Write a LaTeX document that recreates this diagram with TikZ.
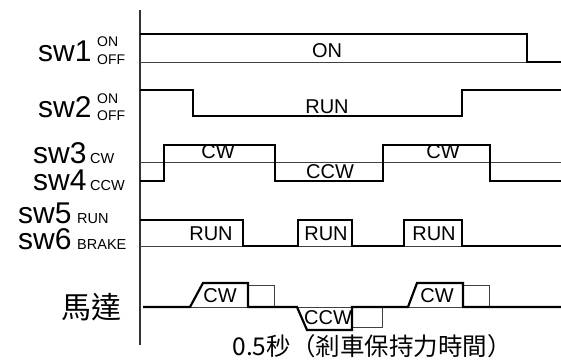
\documentclass[tikz,border=0pt]{standalone}
\usepackage{fontspec}
\setmainfont{Liberation Sans}
\newfontfamily\cjk{Noto Sans CJK TC}
\begin{document}
\begin{tikzpicture}[x=1pt,y=-1pt,
  sig/.style={line width=2.2pt,line join=miter,black},
  basel/.style={line width=1pt,black!75},
  big/.style={inner sep=0,anchor=base west,text height=0.72em,text depth=0pt,font=\fontsize{30}{30}\selectfont},
  small/.style={inner sep=0,anchor=base west,text height=0.72em,text depth=0pt,font=\fontsize{14.5}{14.5}\selectfont},
  onoff/.style={inner sep=0,anchor=base west,text height=0.72em,text depth=0pt,font=\fontsize{14}{14}\selectfont},
  wlab/.style={inner sep=0,font=\fontsize{20}{20}\selectfont}]
\useasboundingbox (0,0) rectangle (561,361);
% axis
\coordinate (at) at (140,10);
\coordinate (ab) at (140,345);
\draw[line width=1.2pt,black!80] (at) -- (ab);

% left labels
\node[big] (l1) at (38,61) {sw1};
\node[onoff] (l1a) at (97,47) {ON};
\node[onoff] (l1b) at (97,64) {OFF};
\node[big] (l2) at (38,117) {sw2};
\node[onoff] (l2a) at (97,103) {ON};
\node[onoff] (l2b) at (97,120) {OFF};
\node[big] (l3) at (33,163) {sw3};
\node[small] (l3a) at (90,163) {CW};
\node[big] (l4) at (33,190) {sw4};
\node[small] (l4a) at (90,190) {CCW};
\node[big] (l5) at (18,223) {sw5};
\node[small] (l5a) at (77,223) {RUN};
\node[big] (l6) at (18,249) {sw6};
\node[small] (l6a) at (77,249) {BRAKE};
\node[inner sep=0,font=\cjk\fontsize{30}{30}\selectfont] (lm) at (91,307) {馬達};

% sw1
\coordinate (a0) at (140,62);
\coordinate (a1) at (527,62);
\draw[basel] (a0) -- (a1);
\draw[sig] (140,34) -- (527,34) -- (527,62) -- (561,62);
\node[wlab] (t1) at (327,51) {ON};

% sw2
\draw[sig] (140,90) -- (193,90) -- (193,116) -- (462,116) -- (462,90) -- (561,90);
\node[wlab] (t2) at (327,107) {RUN};

% sw3/sw4
\draw[basel] (140,162) -- (561,162);
\draw[sig] (140,181) -- (164,181) -- (164,145) -- (275,145) -- (275,181) -- (383,181) -- (383,145) -- (490,145) -- (490,181) -- (561,181);
\node[wlab] (t3) at (218,152) {CW};
\node[wlab] (t4) at (330,172) {CCW};
\node[wlab] (t5) at (443,152) {CW};

% sw5/sw6
\draw[basel] (140,246) -- (561,246);
\draw[sig] (140,220) -- (243,220) -- (243,246) -- (298,246) -- (298,220) -- (352,220) -- (352,246) -- (404,246) -- (404,220) -- (462,220) -- (462,246) -- (561,246);
\node[wlab] (t6) at (211,234) {RUN};
\node[wlab] (t7) at (326,234) {RUN};
\node[wlab] (t8) at (434,234) {RUN};

% motor
\draw[basel] (143,307) -- (561,307);
\draw[basel] (248,285) -- (274,285) -- (274,307);
\draw[basel] (352,327) -- (382,327) -- (382,307);
\draw[basel] (463,285) -- (489,285) -- (489,307);
\draw[sig] (143,307) -- (190,307) -- (203,283) -- (248,283) -- (248,307) -- (297,307) -- (307,330) -- (352,330) -- (352,307) -- (408,307) -- (417,283) -- (463,283) -- (463,307) -- (561,307);
\node[wlab] (m1) at (220,296) {CW};
\node[wlab] (m2) at (328,318) {CCW};
\node[wlab] (m3) at (437,296) {CW};

\node[inner sep=0,font=\cjk\fontsize{24.5}{24.5}\selectfont] (note) at (372,346) {0.5秒（剎車保持力時間）};
\end{tikzpicture}
\end{document}
